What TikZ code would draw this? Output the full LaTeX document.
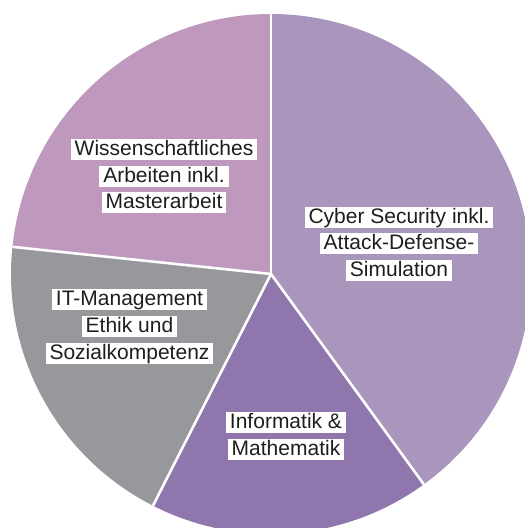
\documentclass[tikz,border=0pt]{standalone}
\usepackage{fontspec}
\setmainfont{Liberation Sans}
\definecolor{wisscol}{RGB}{190,152,189}
\definecolor{cybercol}{RGB}{170,149,189}
\definecolor{infocol}{RGB}{143,119,173}
\definecolor{itcol}{RGB}{151,152,155}
\definecolor{txtcol}{RGB}{30,30,30}
\tikzset{
  lbl/.style={fill=white, text=txtcol, font=\fontsize{21}{25}\selectfont,
    text height=16.5pt, text depth=4.5pt, inner xsep=4pt, inner ysep=0pt, anchor=center},
  sep/.style={draw=white, line width=2.6pt}
}
\begin{document}
\begin{tikzpicture}[x=1pt,y=1pt]
\useasboundingbox (0,0) rectangle (525,528);
\clip (0,0) rectangle (525,528);
\def\R{260}
\coordinate (C) at (271,254);
% slices
\fill[wisscol]  (C) -- ++(90:\R)  arc[start angle=90,  end angle=174, radius=\R] -- cycle;
\fill[itcol]    (C) -- ++(174:\R) arc[start angle=174, end angle=243, radius=\R] -- cycle;
\fill[infocol]  (C) -- ++(243:\R) arc[start angle=243, end angle=306, radius=\R] -- cycle;
\fill[cybercol] (C) -- ++(306:\R) arc[start angle=306, end angle=450, radius=\R] -- cycle;
% separators
\path (C) ++(90:\R) coordinate (b1);
\path (C) ++(174:\R) coordinate (b2);
\path (C) ++(243:\R) coordinate (b3);
\path (C) ++(306:\R) coordinate (b4);
\draw[sep] (C) -- (b1);
\draw[sep] (C) -- (b2);
\draw[sep] (C) -- (b3);
\draw[sep] (C) -- (b4);
% labels
\node[lbl] (w1) at (164,378)   {Wissenschaftliches};
\node[lbl] (w2) at (164,351.5) {Arbeiten inkl.};
\node[lbl] (w3) at (164,325)   {Masterarbeit};
\node[lbl] (c1) at (399,310.5) {Cyber Security inkl.};
\node[lbl] (c2) at (399,284)   {Attack-Defense-};
\node[lbl] (c3) at (399,257.5) {Simulation};
\node[lbl] (i1) at (129.5,228) {IT-Management};
\node[lbl] (i2) at (129.5,201) {Ethik und};
\node[lbl] (i3) at (129.5,174) {Sozialkompetenz};
\node[lbl] (m1) at (286,105)   {Informatik \&};
\node[lbl] (m2) at (286,78.5)  {Mathematik};
\end{tikzpicture}
\end{document}
